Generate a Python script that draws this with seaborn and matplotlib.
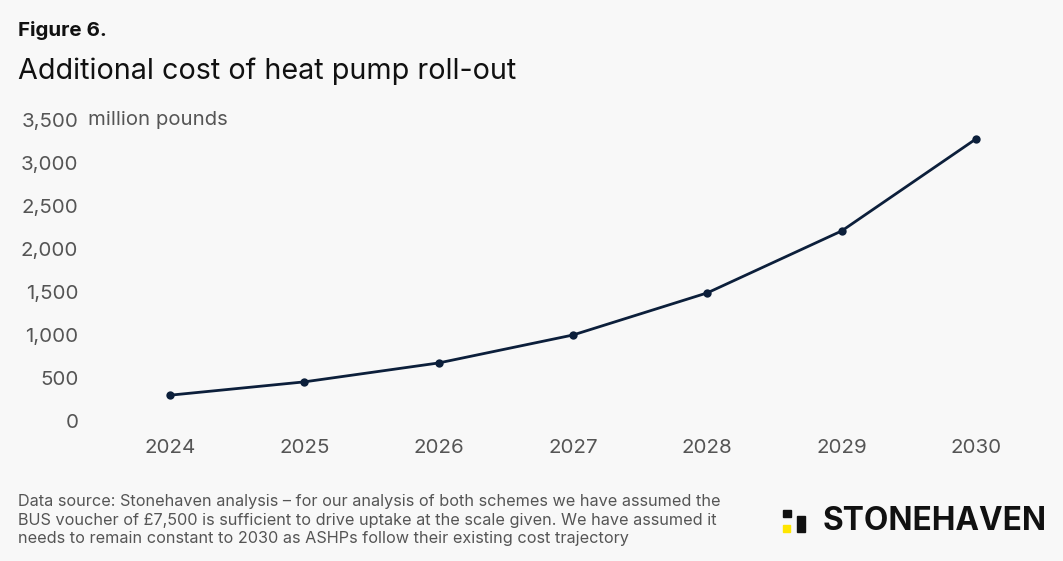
import matplotlib
matplotlib.use("Agg")
import matplotlib.pyplot as plt
import seaborn as sns
import pandas as pd
from matplotlib.patches import Rectangle

years = [2024, 2025, 2026, 2027, 2028, 2029, 2030]
cost = [300, 455, 675, 1000, 1490, 2210, 3280]
y_ticks = [0, 500, 1000, 1500, 2000, 2500, 3000, 3500]
y_labels = ["0", "500", "1,000", "1,500", "2,000", "2,500", "3,000", "3,500"]

df = pd.DataFrame({"year": years, "cost": cost})

sns.set_theme(style="white")
plt.rcParams["font.family"] = ["Inter", "DejaVu Sans"]

BG = "#f8f8f8"
LINE = "#0c1f3b"
GREY = "#555555"

W, H = 1063, 561
fig = plt.figure(figsize=(W / 100, H / 100), dpi=100, facecolor=BG)
ax_l, ax_r, ax_t, ax_b = 138, 1010, 112, 432
ax = fig.add_axes([ax_l / W, 1 - ax_b / H, (ax_r - ax_l) / W, (ax_b - ax_t) / H])
ax.set_facecolor(BG)

sns.lineplot(data=df, x="year", y="cost", ax=ax, color=LINE, linewidth=2,
             marker="o", markersize=6, markeredgewidth=0)

px_year = (976 - 170) / 6
ax.set_xlim(2024 - (170 - ax_l) / px_year, 2030 + (ax_r - 976) / px_year)
px_unit = 43 / 500
ax.set_ylim(-(ax_b - 421) / px_unit, 3500 + (120 - ax_t) / px_unit)

ax.set_xticks(years)
ax.set_xticklabels([str(y) for y in years])
ax.set_yticks(y_ticks)
ax.set_yticklabels(y_labels)
ax.tick_params(axis="both", length=0, labelsize=14.8, labelcolor=GREY)
ax.tick_params(axis="x", pad=5)
ax.tick_params(axis="y", pad=43)
for lab in ax.get_yticklabels():
    lab.set_horizontalalignment("right")
ax.set_xlabel("")
ax.set_ylabel("")
for s in ax.spines.values():
    s.set_visible(False)

# y-axis unit label
fig.text(88 / W, 1 - 120 / H, "million pounds", fontsize=14.6, color=GREY,
         ha="left", va="center")

# titles
fig.text(18 / W, 1 - 30 / H, "Figure 6.", fontsize=14.8, fontweight="bold",
         color="#111111", ha="left", va="center")
fig.text(18 / W, 1 - 71 / H, "Additional cost of heat pump roll-out", fontsize=20.7,
         color="#111111", ha="left", va="center")

# footnote
foot = ("Data source: Stonehaven analysis \u2013 for our analysis of both schemes we have assumed the\n"
        "BUS voucher of \u00a37,500 is sufficient to drive uptake at the scale given. We have assumed it\n"
        "needs to remain constant to 2030 as ASHPs follow their existing cost trajectory")
fig.text(18 / W, 1 - 520 / H, foot, fontsize=11.7, color=GREY, ha="left", va="center",
         linespacing=1.3)

# logo
def rect(x0, y0, x1, y1, c):
    fig.patches.append(Rectangle((x0 / W, 1 - y1 / H), (x1 - x0) / W, (y1 - y0) / H,
                                 transform=fig.transFigure, color=c, zorder=5))
rect(783, 510, 791, 517, "#111111")
rect(797, 516, 805, 532, "#111111")
rect(783, 525, 790, 532, "#ffe600")
fig.text(823 / W, 1 - 521 / H, "STONEHAVEN", fontsize=22.8, fontweight="bold",
         color="#111111", ha="left", va="center")

fig.savefig("out.png", dpi=100, facecolor=BG)
